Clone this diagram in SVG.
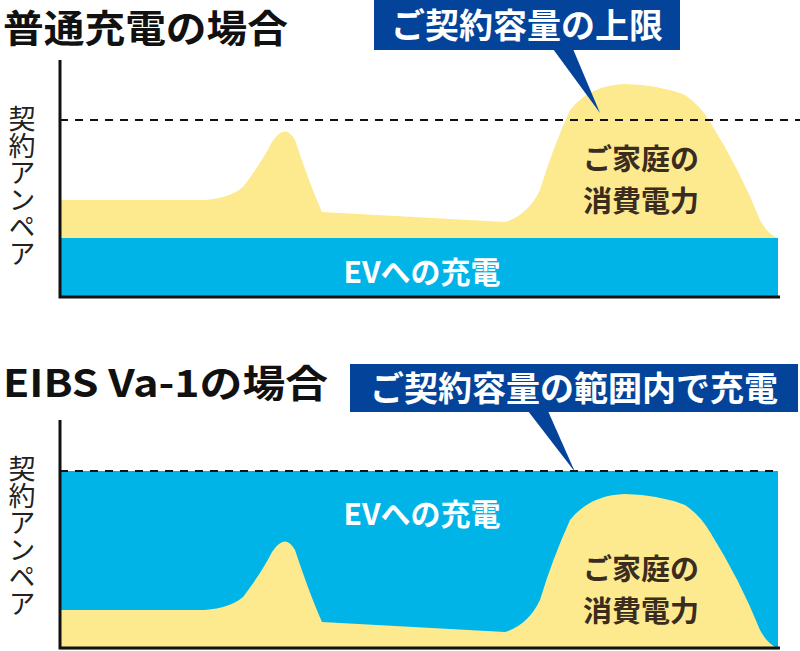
<svg xmlns="http://www.w3.org/2000/svg" width="800" height="651" viewBox="0 0 800 651">
<style>
.t{font-family:"Noto Sans CJK JP","Noto Sans",sans-serif;font-weight:bold}
.title{font-size:38px;fill:#111}
.call{font-size:34px;fill:#fff}
.ev{font-size:30px;fill:#fff}
.home{font-size:29px;fill:#3a2c1e}
.ylab{font-size:27px;fill:#222;font-weight:normal}
.box{fill:#03449a}
.blue{fill:#00b4e8}
.yel{fill:#fde98e}
.axis{stroke:#111;stroke-width:3;fill:none}
.dash{stroke:#111;stroke-width:2;stroke-dasharray:8 7;fill:none}
</style>
<g id="chart1">
<text class="t title" x="3" y="42" textLength="285" lengthAdjust="spacingAndGlyphs">普通充電の場合</text>
<path class="yel" d="M60,200 L205,200 Q230,198 243,187 Q262,162 272,142 Q285,122 295,140 Q310,185 322,212 L505,222 Q528,215 540,190 Q552,150 570,110 Q590,85 625,84 Q660,85 685,95 Q700,105 710,122 Q740,170 760,220 Q768,235 778,238 L778,240 L60,240 Z"/>
<rect class="blue" x="60" y="238" width="718" height="59"/>
<text class="t ev" x="422" y="283" text-anchor="middle">EVへの充電</text>
<text class="t home" x="641" y="170" text-anchor="middle">ご家庭の</text>
<text class="t home" x="641" y="212" text-anchor="middle">消費電力</text>
<line class="dash" x1="60" y1="120" x2="800" y2="120"/>
<path class="axis" d="M60,60 L60,297 L780,297"/>
<text class="t ylab" x="22" y="105" writing-mode="tb">契約アンペア</text>
</g>
<g id="callout1">
<rect class="box" x="374" y="0" width="306" height="50"/>
<path class="box" d="M553,49 L573,49 L600,113 Z"/>
<text class="t call" x="527" y="38" text-anchor="middle">ご契約容量の上限</text>
</g>
<g id="chart2">
<text class="t title" x="3" y="397" textLength="325" lengthAdjust="spacingAndGlyphs">EIBS Va-1の場合</text>
<rect class="blue" x="60" y="471" width="718" height="177"/>
<path class="yel" transform="translate(0,410)" d="M60,200 L205,200 Q230,198 243,187 Q262,162 272,142 Q285,122 295,140 Q310,185 322,212 L505,222 Q528,215 540,190 Q552,150 570,110 Q590,85 625,84 Q660,85 685,95 Q700,105 710,122 Q740,170 760,220 Q768,235 778,238 L778,240 L60,240 Z"/>
<text class="t ev" x="422" y="525" text-anchor="middle">EVへの充電</text>
<text class="t home" x="641" y="580" text-anchor="middle">ご家庭の</text>
<text class="t home" x="641" y="622" text-anchor="middle">消費電力</text>
<line class="dash" x1="60" y1="471" x2="778" y2="471"/>
<path class="axis" d="M60,420 L60,648 L780,648"/>
<text class="t ylab" x="22" y="455" writing-mode="tb">契約アンペア</text>
</g>
<g id="callout2">
<rect class="box" x="350" y="364" width="448" height="48"/>
<path class="box" d="M528,411 L548,411 L575,472 Z"/>
<text class="t call" x="574" y="401" text-anchor="middle">ご契約容量の範囲内で充電</text>
</g>
<g id="connectors"/>
</svg>
